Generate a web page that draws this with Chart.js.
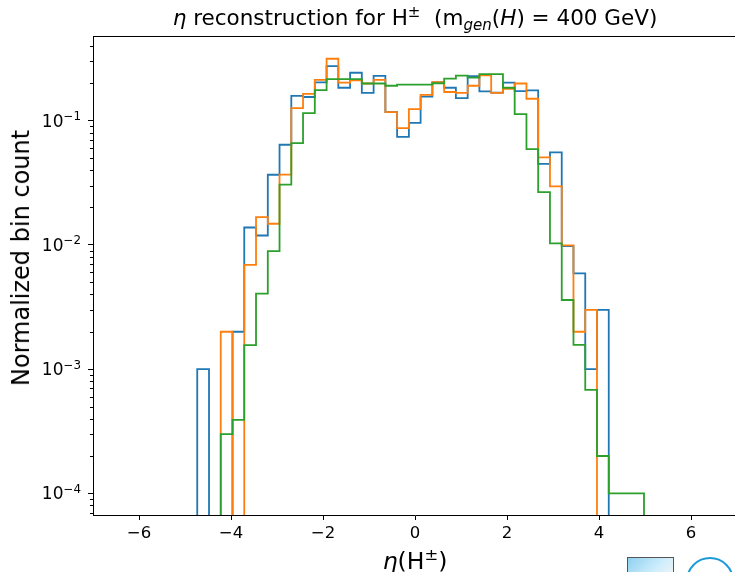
<!DOCTYPE html>
<html>
<head>
<meta charset="utf-8">
<script src="https://cdn.jsdelivr.net/npm/chart.js@4.4.0/dist/chart.umd.min.js"></script>
<style>
  html, body { margin: 0; padding: 0; background: #fff; overflow: hidden; }
  #wrap { position: relative; width: 745px; height: 572px; font-family: 'DejaVu Sans', sans-serif; color: #000; }
  #plotTitle, #xLabel { position: absolute; left: 93px; width: 644px; text-align: center; white-space: nowrap; line-height: 1; }
  #plotTitle { top: 7px; font-size: 21.5px; }
  #xLabel { top: 550px; font-size: 23.5px; }
  #yLabel { position: absolute; left: 21px; top: 258px; font-size: 24px; line-height: 1; white-space: nowrap;
            transform: translate(-50%, -50%) rotate(-90deg); }
  .yTick { position: absolute; left: 0; width: 81px; text-align: right; font-size: 17px; line-height: 1;
           white-space: nowrap; transform: translateY(-50%); }
  sup, sub { font-size: 70%; line-height: 0; position: relative; vertical-align: baseline; }
  sup { top: -0.55em; }
  sub { top: 0.3em; }
  /* little logos in the bottom right corner */
  #logoA { position: absolute; left: 627px; top: 557px; width: 45px; height: 20px; border: 1px solid #555;
           background: linear-gradient(135deg, #8fd0f0 0%, #cfeefc 60%, #f4f4f4 100%); }
  #logoB { position: absolute; left: 686px; top: 557px; width: 44px; height: 44px; border: 2px solid #1e9bd7; border-radius: 50%; }
</style>
</head>
<body>
<div id="wrap">
  <canvas id="chart" width="745" height="572"></canvas>
  <div id="plotTitle"><i>η</i> reconstruction for H<sup>±</sup>&nbsp; (m<sub><i>gen</i></sub>(<i>H</i>) = 400 GeV)</div>
  <div id="xLabel"><i>η</i>(H<sup>±</sup>)</div>
  <div id="yLabel">Normalized bin count</div>
  <div id="logoA"></div>
  <div id="logoB"></div>
</div>
<script>
// bin edges (same for all three histograms)
const binEdges = [
  -4.734, -4.478, -4.223, -3.967, -3.712, -3.456, -3.200, -2.945, -2.689, -2.434,
  -2.178, -1.922, -1.667, -1.411, -1.156, -0.900, -0.644, -0.389, -0.133, 0.122,
  0.378, 0.634, 0.889, 1.145, 1.400, 1.656, 1.912, 2.167, 2.423, 2.678,
  2.934, 3.190, 3.445, 3.701, 3.956, 4.212, 4.467, 4.723, 4.978
];

// normalized bin counts, one per bin (0 = empty bin)
const blueCounts = [
  0.001, 0, 0, 0.002, 0.0138, 0.0119, 0.0367, 0.064, 0.158, 0.155,
  0.203, 0.275, 0.184, 0.243, 0.167, 0.229, 0.117, 0.074, 0.096, 0.156,
  0.203, 0.184, 0.152, 0.228, 0.172, 0.168, 0.202, 0.173, 0.175, 0.0448,
  0.0555, 0.0098, 0.0059, 0.001, 0.003, 0, 0, 0
];
const orangeCounts = [
  0, 0, 0.002, 0, 0.0069, 0.0167, 0.0148, 0.0368, 0.126, 0.164,
  0.213, 0.315, 0.202, 0.211, 0.199, 0.213, 0.117, 0.087, 0.124, 0.161,
  0.204, 0.17, 0.167, 0.191, 0.231, 0.167, 0.18, 0.199, 0.15, 0.0507,
  0.0296, 0.0099, 0.002, 0.003, 0, 0, 0, 0
];
const greenCounts = [
  0, 0, 0.0003, 0.00039, 0.00156, 0.00405, 0.0089, 0.0305, 0.066, 0.115,
  0.176, 0.216, 0.216, 0.216, 0.199, 0.199, 0.191, 0.195, 0.195, 0.195,
  0.2, 0.218, 0.23, 0.222, 0.237, 0.237, 0.184, 0.113, 0.059, 0.0266,
  0.0103, 0.0036, 0.00157, 0.00068, 0.0002, 0.0001, 0.0001, 0.0001
];

const xTicks = [-6, -4, -2, 0, 2, 4, 6];
const yTicks = [1e-4, 1e-3, 1e-2, 1e-1];
const yTickExps = ['\u22124', '\u22123', '\u22122', '\u22121'];  // shown as 10^exp
const yMin = 6.7e-5, yMax = 0.48;

// minor log ticks 2..9 x 10^k inside the range
const yMinor = [];
[-5, -4, -3, -2, -1].forEach(e => {
  for (let k = 2; k <= 9; k++) {
    const v = k * Math.pow(10, e);
    if (v > yMin && v < yMax) yMinor.push(v);
  }
});

const FLOOR = 1e-9; // empty bins drop below the axis, like matplotlib's step outline

// outline of a step histogram built from edges + counts
function stepOutline(counts) {
  const pts = [{ x: binEdges[0], y: FLOOR }];
  counts.forEach((c, i) => {
    const v = c > 0 ? c : FLOOR;
    pts.push({ x: binEdges[i], y: v });
    pts.push({ x: binEdges[i + 1], y: v });
  });
  pts.push({ x: binEdges[binEdges.length - 1], y: FLOOR });
  return pts;
}

function fmtTick(v) {
  return (v < 0 ? '\u2212' : '') + Math.abs(v);
}

const axisExtras = {
  id: 'axisExtras',
  afterDraw(chart) {
    const { ctx, chartArea: a, scales: { y } } = chart;
    ctx.save();
    ctx.strokeStyle = '#000';
    ctx.lineWidth = 1;
    ctx.beginPath();
    ctx.moveTo(a.left, a.top + 0.5);
    ctx.lineTo(a.right, a.top + 0.5);
    ctx.moveTo(a.right - 0.5, a.top);
    ctx.lineTo(a.right - 0.5, a.bottom);
    yMinor.forEach(v => {
      const py = Math.round(y.getPixelForValue(v)) + 0.5;
      ctx.moveTo(a.left - 3, py);
      ctx.lineTo(a.left, py);
    });
    ctx.stroke();
    ctx.restore();
  }
};

Chart.defaults.font.family = "'DejaVu Sans', sans-serif";
Chart.defaults.color = '#000';

const lineStyle = { borderWidth: 1.8, pointRadius: 0, tension: 0, fill: false, borderJoinStyle: 'miter' };

const chart = new Chart(document.getElementById('chart'), {
  type: 'line',
  data: {
    datasets: [
      { ...lineStyle, label: 'blue', data: stepOutline(blueCounts), borderColor: '#1f77b4', order: 3 },
      { ...lineStyle, label: 'orange', data: stepOutline(orangeCounts), borderColor: '#ff7f0e', order: 2 },
      { ...lineStyle, label: 'green', data: stepOutline(greenCounts), borderColor: '#2ca02c', order: 1 }
    ]
  },
  options: {
    responsive: false,
    animation: false,
    layout: { padding: { top: 36, right: 8, left: 0, bottom: 0 } },
    plugins: { legend: { display: false }, tooltip: { enabled: false }, title: { display: false } },
    scales: {
      x: {
        type: 'linear', min: -7, max: 7,
        afterBuildTicks: s => { s.ticks = xTicks.map(v => ({ value: v })); },
        afterFit: s => { s.height = 57; },
        ticks: { callback: v => fmtTick(v), font: { size: 16.5 }, padding: 4, maxRotation: 0, autoSkip: false },
        grid: { drawOnChartArea: false, drawTicks: true, tickLength: 5, tickColor: '#000' },
        border: { display: true, color: '#000', width: 1 }
      },
      y: {
        type: 'logarithmic', min: yMin, max: yMax,
        afterBuildTicks: s => { s.ticks = yTicks.map(v => ({ value: v })); },
        afterFit: s => { s.width = 93; },
        ticks: { display: false },
        grid: { drawOnChartArea: false, drawTicks: true, tickLength: 5, tickColor: '#000' },
        border: { display: true, color: '#000', width: 1 }
      }
    }
  },
  plugins: [axisExtras]
});

// y tick labels as 10^n text, placed on the log scale's pixels
const wrap = document.getElementById('wrap');
yTicks.forEach((v, i) => {
  const el = document.createElement('div');
  el.className = 'yTick';
  el.innerHTML = '10<sup>' + yTickExps[i] + '</sup>';
  el.style.top = chart.scales.y.getPixelForValue(v) + 'px';
  wrap.appendChild(el);
});
</script>
</body>
</html>
